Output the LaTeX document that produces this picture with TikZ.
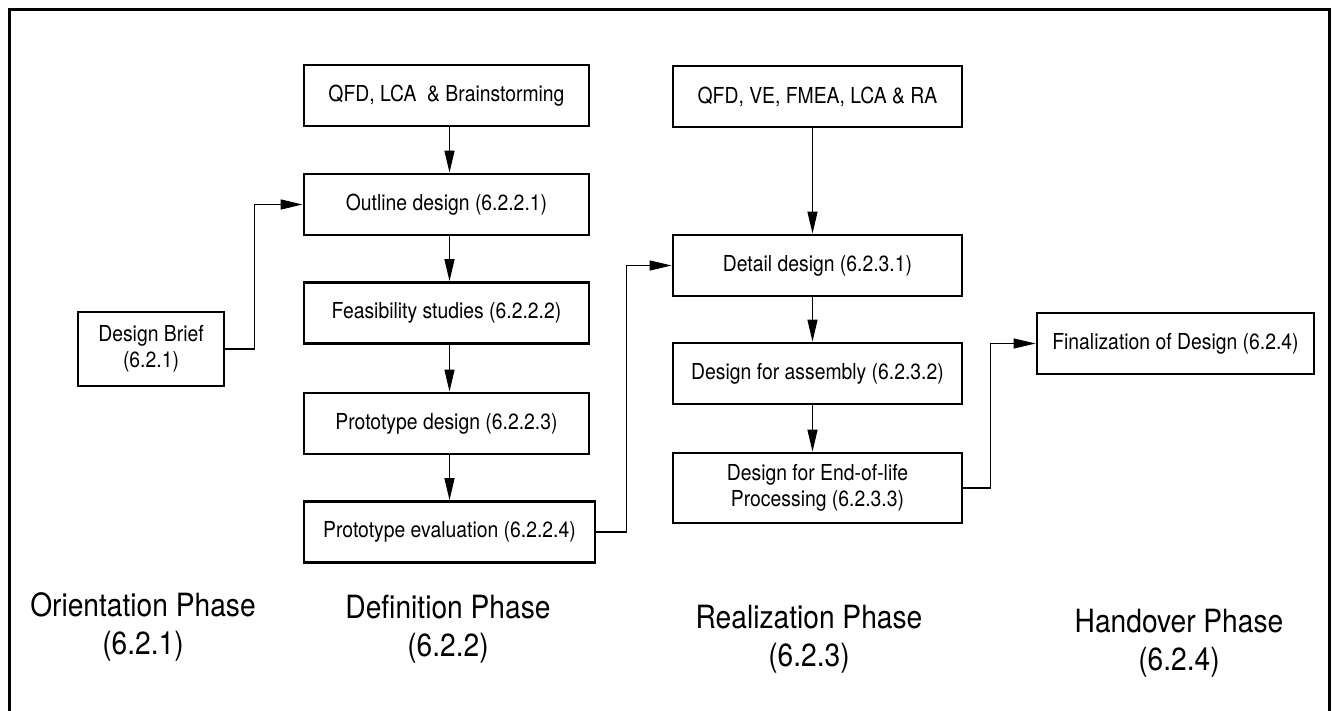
\documentclass[tikz,border=0pt]{standalone}
\usepackage{fontspec}
\setmainfont{TeX Gyre Heros}[FakeStretch=0.88]
\usetikzlibrary{arrows.meta}

\begin{document}
\begin{tikzpicture}[
    x=1pt, y=-1pt,
    stagebox/.style={draw, line width=2.8pt, align=center,
      minimum width=285pt, minimum height=61pt, inner sep=2pt,
      font=\fontsize{22}{26.5}\selectfont},
    phase/.style={align=center, font=\fontsize{32}{38}\selectfont},
    flow/.style={line width=1.3pt, -{Triangle[length=22pt,width=10pt]}}
  ]
  \useasboundingbox (0,0) rectangle (1335,711);
  \draw[line width=3pt] (9,711) -- (9,10) -- (1329,10) -- (1329,711);

  % orientation
  \node[stagebox, minimum width=146pt, minimum height=74pt] (brief) at (151,349) {Design Brief\\(6.2.1)};
  % definition
  \node[stagebox] (qfdA)    at (446.5,95.5)  {QFD, LCA\ \ \& Brainstorming};
  \node[stagebox] (outline) at (446.5,204.5) {Outline design (6.2.2.1)};
  \node[stagebox] (feas)    at (446.5,313)   {Feasibility studies (6.2.2.2)};
  \node[stagebox] (protod)  at (446.5,423.5) {Prototype design (6.2.2.3)};
  \node[stagebox, minimum width=291pt] (protoe) at (449.5,532) {Prototype evaluation (6.2.2.4)};
  % realization
  \node[stagebox, minimum width=289pt] (qfdB)   at (817.5,96.5)  {QFD, VE, FMEA, LCA \& RA};
  \node[stagebox, minimum width=289pt] (detail) at (817.5,265.5) {Detail design (6.2.3.1)};
  \node[stagebox, minimum width=289pt] (dfa)    at (817.5,373.5) {Design for assembly (6.2.3.2)};
  \node[stagebox, minimum width=289pt, minimum height=70pt] (eol) at (817.5,488)
    {Design for End-of-life\\Processing (6.2.3.3)};
  % handover
  \node[stagebox, minimum width=277pt] (final) at (1175.5,343.5) {Finalization of Design (6.2.4)};

  % phase captions
  \node[phase] (orient) at (143,627)    {Orientation Phase\\(6.2.1)};
  \node[phase] (defin)  at (448,629)    {Definition Phase\\(6.2.2)};
  \node[phase] (realiz) at (809,639)    {Realization Phase\\(6.2.3)};
  \node[phase] (handov) at (1179,643.5) {Handover Phase\\(6.2.4)};

  \path[flow]
    ([xshift=3pt]qfdA.south)    edge ([xshift=3pt]outline.north)
    ([xshift=3pt]outline.south) edge ([xshift=3pt]feas.north)
    ([xshift=3pt]feas.south)    edge ([xshift=3pt]protod.north)
    ([xshift=3pt]protod.south)  edge ([xshift=3pt]protod.south |- protoe.north)
    ([xshift=-5pt]qfdB.south)   edge ([xshift=-5pt]detail.north)
    ([xshift=-5pt]detail.south) edge ([xshift=-5pt]dfa.north)
    ([xshift=-5pt]dfa.south)    edge ([xshift=-5pt]eol.north);
  \draw[flow] (brief.east)  -- ++(29,0) |- (outline.west);
  \draw[flow] (protoe.east) -- ++(30,0) |- (detail.west);
  \draw[flow] (eol.east)    -- ++(27,0) |- (final.west);
\end{tikzpicture}
\end{document}
